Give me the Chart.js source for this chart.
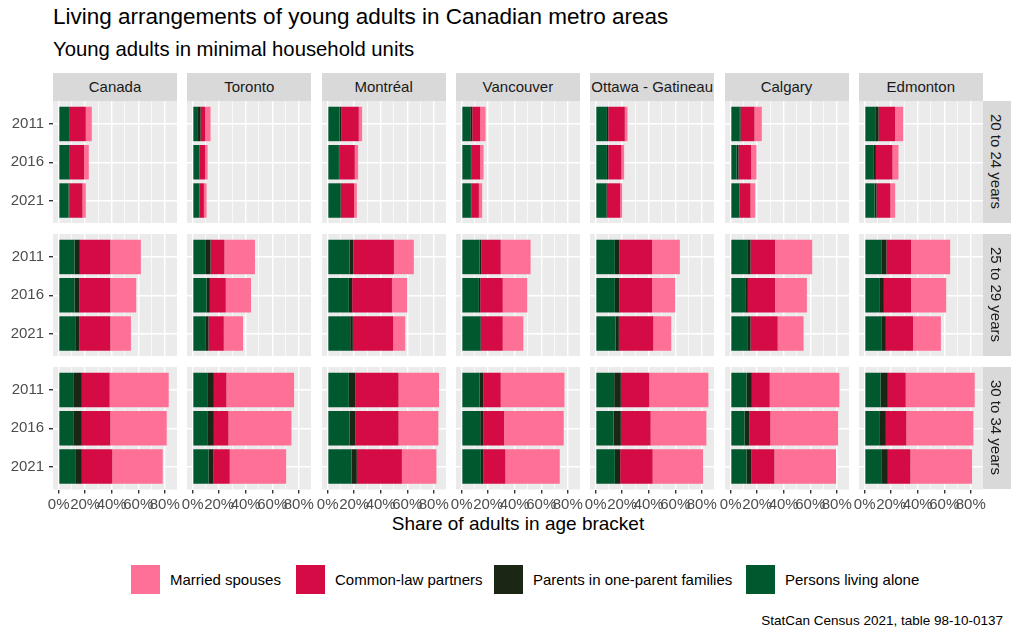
<!DOCTYPE html>
<html>
<head>
<meta charset="utf-8">
<script src="https://cdn.jsdelivr.net/npm/chart.js@4"></script>
<style>
  body { margin: 0; background: #fff; font-family: "Liberation Sans", Arial, sans-serif; }
  #fig { position: relative; width: 1024px; height: 640px; overflow: hidden; }
  .abs { position: absolute; }
  .title { left: 53px; top: 4px; font-size: 22.5px; color: #000; white-space: nowrap; }
  .subtitle { left: 53px; top: 38px; font-size: 20.3px; color: #000; white-space: nowrap; }
  .strip { background: #D9D9D9; color: #1A1A1A; font-size: 15px; display: flex; align-items: center; justify-content: center; white-space: nowrap; overflow: hidden; }
  .strip.side span { transform: rotate(90deg); display: block; }
  .xtitle { top: 513px; left: 53px; width: 930px; text-align: center; font-size: 19px; color: #000; }
  .key { width: 29px; height: 29px; }
  .keylab { font-size: 15px; color: #000; white-space: nowrap; }
  .caption { right: 21px; top: 613px; font-size: 13.5px; color: #000; white-space: nowrap; }
</style>
</head>
<body>
<div id="fig">
  <div class="abs title">Living arrangements of young adults in Canadian metro areas</div>
  <div class="abs subtitle">Young adults in minimal household units</div>
  <div class="abs xtitle">Share of adults in age bracket</div>
  <div class="abs caption">StatCan Census 2021, table 98-10-0137</div>
</div>
<script>
// facets
const cities = ['Canada', 'Toronto', 'Montréal', 'Vancouver', 'Ottawa - Gatineau', 'Calgary', 'Edmonton'];
const ages = ['20 to 24 years', '25 to 29 years', '30 to 34 years'];
const years = ['2011', '2016', '2021'];
const xTicks = [0, 10, 20, 30, 40, 50, 60, 70, 80];

// shares in %, per city -> [age][year]
const livingAlone = [
  [[8, 8, 7.5], [12, 12, 12.5], [11.5, 11.5, 12.5]],
  [[4, 5, 5], [10, 10.5, 10], [11, 11.5, 12]],
  [[9, 8.5, 9.5], [16.5, 16, 17], [16, 16.5, 18]],
  [[6.5, 7, 7], [13.5, 13, 14], [13.5, 14, 14.5]],
  [[8.5, 8.5, 8], [14.5, 14.5, 15], [14, 13.5, 14.5]],
  [[6.5, 4.5, 6.5], [12.5, 11, 12.5], [12, 10.5, 12]],
  [[8, 6.5, 7.5], [13, 11.5, 13], [12, 11, 12.5]],
];
const oneParent = [
  [[0.5, 0.5, 0.5], [4, 3.5, 3], [6, 6, 5]],
  [[2, 0.3, 0.3], [3.5, 2.5, 2], [5, 4.5, 3.5]],
  [[1.5, 0.5, 0.5], [3, 2.5, 2], [5, 4.5, 4]],
  [[1.5, 0.5, 0.3], [1.5, 1, 0.5], [3, 2.5, 2]],
  [[1, 1, 0.5], [3.5, 3.5, 2.5], [5, 5.5, 4]],
  [[1, 1.5, 0.3], [2.5, 2, 2.5], [4, 3.5, 3.5]],
  [[2.5, 2, 1.5], [3.5, 3, 3], [5.5, 5, 5]],
];
const commonLaw = [
  [[12, 10.75, 10], [23, 23.5, 23.5], [21, 21.5, 23]],
  [[3.5, 4, 3.2], [10.5, 12, 11.5], [9.5, 11, 12.5]],
  [[13, 11.5, 10], [30.5, 30, 30.5], [32.5, 32.5, 34]],
  [[6, 6.5, 5.7], [14.5, 17, 16.5], [13, 15.5, 16.5]],
  [[12.5, 10, 10], [24.5, 24.5, 26], [21.5, 22.5, 24.5]],
  [[10.5, 9.5, 8.2], [18.5, 20.5, 20.5], [13.5, 16, 17.5]],
  [[12.5, 12.5, 10.5], [18.5, 20.5, 20.5], [13.5, 15.5, 17]],
];
const married = [
  [[4.5, 3.5, 2.5], [23, 19.5, 15.5], [44.5, 42.5, 38]],
  [[4, 2, 2], [23, 19, 14.5], [51, 47.5, 42.5]],
  [[2.5, 2.5, 2], [15, 11.5, 9], [30.5, 30, 26]],
  [[4, 2.5, 2.5], [22.5, 18.5, 15.5], [48, 45, 41]],
  [[2, 2, 1.5], [21, 17.5, 13.5], [44.5, 42, 38]],
  [[5.5, 4, 3.5], [28, 24, 19.5], [52.5, 51, 46.5]],
  [[6, 4.5, 3.5], [29.5, 26.5, 21], [52, 50.5, 46.5]],
];

const series = [
  { label: 'Persons living alone', values: livingAlone, color: '#00582F' },
  { label: 'Parents in one-parent families', values: oneParent, color: '#1A2715' },
  { label: 'Common-law partners', values: commonLaw, color: '#D50B45' },
  { label: 'Married spouses', values: married, color: '#FF7096' },
];

const fig = document.getElementById('fig');
const colLeft = i => 53 + i * 134.3;
const rowTop = r => 100.5 + r * 133;
const panelW = 124, panelH = 122.5, yAxisW = 53, xAxisH = 30, padX = 14;
const tickFont = { family: '"Liberation Sans", Arial, sans-serif', size: 15 };

// grey panel background behind the grid
const panelBg = {
  id: 'panelBg',
  beforeDraw(chart) {
    const a = chart.chartArea, ctx = chart.ctx;
    ctx.save();
    ctx.fillStyle = '#EBEBEB';
    ctx.fillRect(a.left, a.top, a.right - a.left, a.bottom - a.top);
    ctx.restore();
  }
};

function addDiv(cls, left, top, w, h, html) {
  const d = document.createElement('div');
  d.className = 'abs ' + cls;
  Object.assign(d.style, { left: left + 'px', top: top + 'px', width: w + 'px', height: h + 'px' });
  d.innerHTML = html;
  fig.appendChild(d);
  return d;
}

cities.forEach((city, ci) => {
  addDiv('strip', colLeft(ci), 73, panelW, 27.5, city);
  ages.forEach((age, ri) => {
    const first = ci === 0, bottom = ri === ages.length - 1;
    const left = first ? 0 : colLeft(ci) - padX;
    const width = first ? yAxisW + panelW + padX : panelW + 2 * padX;
    const height = panelH + (bottom ? xAxisH : 0);
    const box = addDiv('', left, rowTop(ri), width, height, '');
    const canvas = document.createElement('canvas');
    box.appendChild(canvas);

    new Chart(canvas, {
      type: 'bar',
      data: {
        datasets: series.map(s => ({
          label: s.label,
          data: years.map((y, k) => ({ y: k + 1, x: s.values[ci][ri][k] })),
          backgroundColor: s.color,
          borderWidth: 0,
          barPercentage: 0.9,
          categoryPercentage: 1,
        }))
      },
      options: {
        indexAxis: 'y',
        responsive: true,
        maintainAspectRatio: false,
        animation: false,
        events: [],
        layout: { autoPadding: false, padding: { left: first ? 0 : padX, right: padX, top: 0, bottom: 0 } },
        plugins: { legend: { display: false }, tooltip: { enabled: false } },
        scales: {
          x: {
            type: 'linear',
            stacked: true,
            bounds: 'data',
            min: -4.25,
            max: 89.25,
            afterBuildTicks: s => { s.ticks = xTicks.map(v => ({ value: v })); },
            afterFit: s => { s.height = bottom ? xAxisH : 0; s.paddingLeft = 0; s.paddingRight = 0; },
            border: { display: false },
            grid: {
              color: '#FFFFFF',
              lineWidth: c => (c.tick && c.tick.value % 20 === 0) ? 1.4 : 0.7,
              drawTicks: bottom,
              tickLength: 4,
              tickColor: c => (c.tick && c.tick.value % 20 === 0) ? '#333333' : 'rgba(0,0,0,0)',
            },
            ticks: {
              display: bottom,
              autoSkip: false,
              maxRotation: 0,
              padding: 2,
              color: '#4D4D4D',
              font: tickFont,
              callback: v => v % 20 === 0 ? v + '%' : '',
            },
          },
          y: {
            type: 'linear',
            stacked: true,
            bounds: 'data',
            offset: false,
            reverse: true,
            min: 0.4,
            max: 3.6,
            afterBuildTicks: s => { s.ticks = years.map((y, k) => ({ value: k + 1 })); },
            afterFit: s => { s.width = first ? yAxisW : 0; s.paddingTop = 0; s.paddingBottom = 0; },
            border: { display: false },
            grid: {
              offset: false,
              color: '#FFFFFF',
              lineWidth: 1.4,
              drawTicks: first,
              tickLength: 4,
              tickColor: '#333333',
            },
            ticks: {
              display: first,
              autoSkip: false,
              padding: 5,
              color: '#4D4D4D',
              font: tickFont,
              callback: v => years[v - 1],
            },
          },
        },
      },
      plugins: [panelBg],
    });
  });
});

ages.forEach((age, ri) => {
  addDiv('strip side', colLeft(cities.length - 1) + panelW, rowTop(ri), 28, panelH, '<span>' + age + '</span>');
});

// legend, reverse stacking order like ggplot
const legendX = [131, 296, 494, 746];
series.slice().reverse().forEach((s, i) => {
  const k = addDiv('key', legendX[i], 565, 29, 29, '');
  k.style.background = s.color;
  addDiv('keylab', legendX[i] + 39, 571, 240, 18, s.label);
});
</script>
</body>
</html>
